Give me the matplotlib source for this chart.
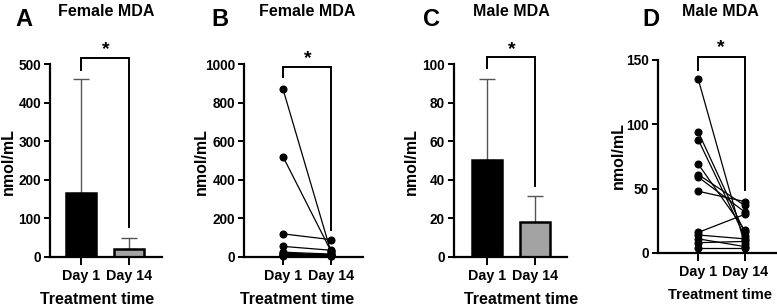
import matplotlib
matplotlib.use("Agg")
import matplotlib.pyplot as plt
from matplotlib import font_manager

names = {f.name for f in font_manager.fontManager.ttflist}
FAM = ['Liberation Sans Narrow', 'Liberation Sans', 'DejaVu Sans'] if 'Liberation Sans Narrow' in names else ['Liberation Sans', 'DejaVu Sans']
plt.rcParams['font.family'] = FAM
plt.rcParams['font.weight'] = 'bold'

# ---------------- data ----------------
days = ["Day 1", "Day 14"]
ylabel = "nmol/mL"
xlabel = "Treatment time"

# Panel A: female mean and upper error
female_mean = [165, 22]
female_err_top = [460, 48]
female_ticks = [0, 100, 200, 300, 400, 500]

# Panel B: female paired values
female_day1 = [870, 520, 120, 55, 25, 20, 15, 12, 8, 5]
female_day14 = [25, 30, 90, 35, 15, 12, 10, 8, 5, 4]
female_pair_ticks = [0, 200, 400, 600, 800, 1000]

# Panel C: male mean and upper error
male_mean = [50.5, 18]
male_err_top = [92, 31.5]
male_ticks = [0, 20, 40, 60, 80, 100]

# Panel D: male paired values
male_day1 = [135, 94, 88, 69, 61, 59, 48, 16, 14, 11, 8, 4]
male_day14 = [7, 16, 13, 18, 37, 32, 40, 30, 11, 5, 9, 4]
male_pair_ticks = [0, 50, 100, 150]

# ---------------- layout ----------------
W, H = 777, 306
fig = plt.figure(figsize=(W / 100, H / 100), dpi=100)


def add_ax(l, r, top, bottom):
    return fig.add_axes([l / W, 1 - bottom / H, (r - l) / W, (bottom - top) / H])


def style(ax, ticks, xlim):
    ax.set_ylim(ticks[0], ticks[-1])
    ax.set_yticks(ticks)
    ax.set_xlim(*xlim)
    ax.set_xticks([0, 1])
    ax.set_xticklabels(days)
    for s in ['top', 'right']:
        ax.spines[s].set_visible(False)
    for s in ['left', 'bottom']:
        ax.spines[s].set_linewidth(1.6)
    ax.tick_params(axis='both', width=1.4, length=4.5, labelsize=9.8, pad=2)
    ax.tick_params(axis='x', length=5.5, pad=3, labelsize=10.3)
    for lab in ax.get_xticklabels() + ax.get_yticklabels():
        lab.set_fontweight('bold')
    ax.patch.set_alpha(0)


def bracket(ax, ytop, yl, yr):
    ax.plot([0, 0, 1, 1], [yl, ytop, ytop, yr], color='black', lw=1.4,
            clip_on=False, solid_joinstyle='miter')


def bars(ax, means, tops):
    colors = ['black', '#a3a3a3']
    for i in range(2):
        ax.errorbar(i, means[i], yerr=[[0], [tops[i] - means[i]]], fmt='none',
                    ecolor='#555555', elinewidth=1.0, capsize=6, capthick=1.0,
                    zorder=1, clip_on=False)
    ax.bar([0, 1], means, width=0.63, color=colors, edgecolor='black',
           linewidth=1.8, zorder=2)


def pairs(ax, d1, d14):
    for a, b in zip(d1, d14):
        ax.plot([0, 1], [a, b], color='black', lw=0.9, marker='o', ms=4.8,
                clip_on=False, zorder=3)


def texts(letter, lx, title, tx, ylx, yly, xlx, xly, star_x, star_y, xfs=11.5):
    fig.text(lx / W, 1 - 20 / H, letter, fontsize=17, fontweight='bold',
             ha='center', va='center', family=['Liberation Sans', 'DejaVu Sans'])
    fig.text(tx / W, 1 - 12 / H, title, fontsize=11.5, fontweight='bold',
             ha='center', va='center')
    fig.text(ylx / W, 1 - yly / H, ylabel, fontsize=11.5, fontweight='bold',
             ha='center', va='center', rotation=90)
    fig.text(xlx / W, 1 - xly / H, xlabel, fontsize=xfs, fontweight='bold',
             ha='center', va='center')
    fig.text(star_x / W, 1 - star_y / H, "*", fontsize=14, fontweight='bold',
             ha='center', va='center')


# Panel A
axA = add_ax(50, 162, 64, 257)
bars(axA, female_mean, female_err_top)
style(axA, female_ticks, (-0.646, 1.6875))
bracket(axA, 515, 484, 78)
texts("A", 24, "Female MDA", 106, 8, 162, 97, 299, 106, 50)

# Panel B
axB = add_ax(244, 363, 64, 257)
pairs(axB, female_day1, female_day14)
style(axB, female_pair_ticks, (-0.8125, 1.667))
bracket(axB, 986, 932, 140)
texts("B", 220, "Female MDA", 307, 201, 162, 297, 299, 308, 59)

# Panel C
axC = add_ax(454, 567, 64, 257)
bars(axC, male_mean, male_err_top)
style(axC, male_ticks, (-0.6875, 1.667))
bracket(axC, 103.6, 98, 37)
texts("C", 432, "Male MDA", 511, 411, 162, 521, 299, 512, 50)

# Panel D
axD = add_ax(658, 777, 60, 253)
pairs(axD, male_day1, male_day14)
style(axD, male_pair_ticks, (-0.87, 1.70))
bracket(axD, 152, 142, 49)
texts("D", 651, "Male MDA", 720, 618, 156, 720, 295, 721, 48, xfs=10.5)

fig.savefig("out.png", dpi=100)
